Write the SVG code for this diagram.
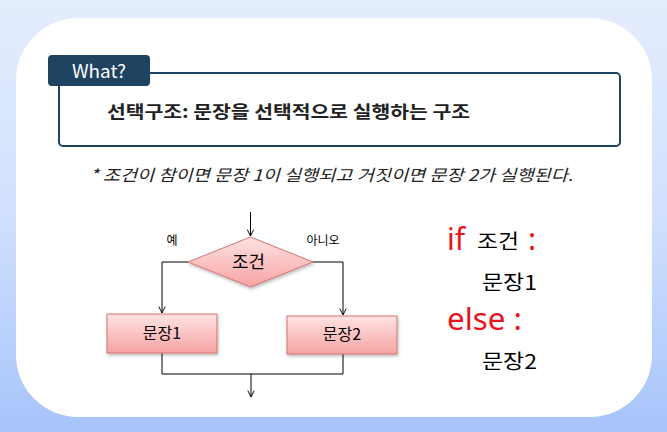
<svg xmlns="http://www.w3.org/2000/svg" width="667" height="432" viewBox="0 0 667 432">
<defs>
<linearGradient id="bg" x1="0" y1="0" x2="0" y2="1">
<stop offset="0" stop-color="#e4edfd"/>
<stop offset="0.5" stop-color="#d0e0fd"/>
<stop offset="1" stop-color="#a6c4fb"/>
</linearGradient>
<linearGradient id="pink" x1="0" y1="0" x2="0" y2="1">
<stop offset="0" stop-color="#ffe3e3"/>
<stop offset="1" stop-color="#f6a3a3"/>
</linearGradient>
<filter id="sh" x="-10%" y="-10%" width="130%" height="140%">
<feDropShadow dx="1" dy="2" stdDeviation="1.5" flood-color="#000" flood-opacity="0.25"/>
</filter>
<marker id="arr" viewBox="0 0 10 10" refX="9" refY="5" markerWidth="8" markerHeight="8" orient="auto" markerUnits="userSpaceOnUse">
<path d="M1,1 L9,5 L1,9" fill="none" stroke="#000" stroke-width="1.2"/>
</marker>
<style>
.k{font-family:"Noto Sans CJK KR","Noto Sans",sans-serif;}
.ln{fill:none;stroke:#000;stroke-width:1;}
.shape{fill:url(#pink);stroke:#d27272;stroke-width:1;filter:url(#sh);}
.red{fill:#e8141c;font-family:"Noto Sans","Liberation Sans",sans-serif;}
</style>
</defs>
<rect x="0" y="0" width="667" height="432" fill="url(#bg)"/>
<rect x="16" y="18" width="636" height="399" rx="62" ry="62" fill="#fff"/>

<g id="header">
<rect x="59" y="73" width="561" height="73" rx="4" fill="#fff" stroke="#1f4462" stroke-width="2"/>
<rect x="48" y="55" width="102" height="31" rx="4" fill="#1f4462"/>
<text x="72" y="78" class="k" font-size="18" fill="#fff" textLength="54" lengthAdjust="spacingAndGlyphs">What?</text>
<text x="107" y="118" class="k" font-size="17.5" font-weight="bold" fill="#222" textLength="363" lengthAdjust="spacingAndGlyphs">선택구조: 문장을 선택적으로 실행하는 구조</text>
</g>

<g id="note">
<text x="90" y="181" class="k" font-size="16" font-style="italic" fill="#222" textLength="483" lengthAdjust="spacingAndGlyphs">* 조건이 참이면 문장 1이 실행되고 거짓이면 문장 2가 실행된다.</text>
</g>

<g id="connectors">
<line class="ln" x1="250.5" y1="212" x2="250.5" y2="236" marker-end="url(#arr)"/>
<polyline class="ln" points="188,262 162,262 162,313" marker-end="url(#arr)"/>
<polyline class="ln" points="313,262 343,262 343,315" marker-end="url(#arr)"/>
<polyline class="ln" points="162,353 162,374 343,374 343,354"/>
<line class="ln" x1="251" y1="374" x2="251" y2="397" marker-end="url(#arr)"/>
<text x="172" y="245" class="k" font-size="12" fill="#000" text-anchor="middle">예</text>
<text x="323" y="245" class="k" font-size="12" fill="#000" text-anchor="middle">아니오</text>
</g>

<g id="cond">
<polygon class="shape" points="250.5,237 313,262 250.5,287 188,262"/>
<text x="232" y="268" class="k" font-size="17" fill="#000" textLength="33" lengthAdjust="spacingAndGlyphs">조건</text>
</g>

<g id="stmt1">
<rect class="shape" x="107" y="314" width="110" height="39"/>
<text x="162" y="339" class="k" font-size="16" fill="#000" text-anchor="middle">문장1</text>
</g>

<g id="stmt2">
<rect class="shape" x="287" y="316" width="110" height="38"/>
<text x="342" y="340" class="k" font-size="16" fill="#000" text-anchor="middle">문장2</text>
</g>

<g id="code">
<text x="447" y="250" class="red" font-size="30">if</text>
<text x="477" y="249" class="k" font-size="20" fill="#000" textLength="42" lengthAdjust="spacingAndGlyphs">조건</text>
<text x="528" y="250" class="red" font-size="30">:</text>
<text x="482" y="290" class="k" font-size="20" fill="#000" textLength="55" lengthAdjust="spacingAndGlyphs">문장1</text>
<text x="447" y="330" class="red" font-size="30" textLength="75" lengthAdjust="spacingAndGlyphs">else :</text>
<text x="482" y="369" class="k" font-size="20" fill="#000" textLength="55" lengthAdjust="spacingAndGlyphs">문장2</text>
</g>
</svg>
